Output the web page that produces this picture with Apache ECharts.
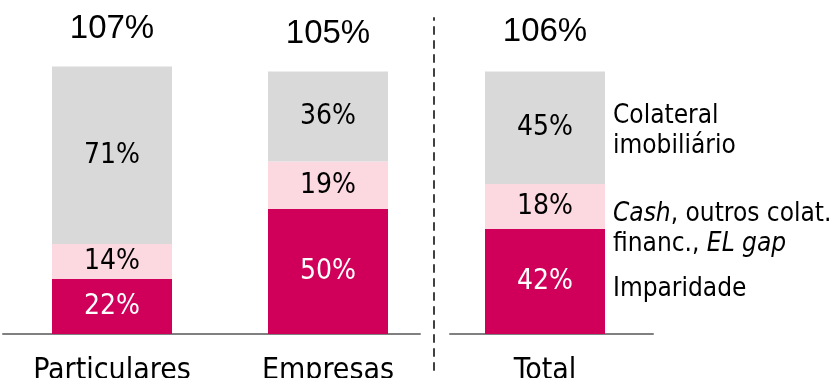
<!DOCTYPE html>
<html>
<head>
<meta charset="utf-8">
<script src="https://cdn.jsdelivr.net/npm/echarts@6/dist/echarts.min.js"></script>
<style>
  html, body { margin: 0; padding: 0; background: #fff; }
  #chart { width: 839px; height: 378px; }
</style>
</head>
<body>
<div id="chart"></div>
<script>
// Coverage of credit exposure, by segment (stacked shares, %)
const categories = ['Particulares', 'Empresas', 'Total'];
const imparidade = [22, 50, 42];
const cashOutros = [14, 19, 18];
const colateral = [71, 36, 45];
const totals = [107, 105, 106];
const seriesNames = ['Imparidade', 'Cash, outros colat. financ., EL gap', 'Colateral imobiliário'];
const legendTexts = ['Imparidade', '{i|Cash}, outros colat.\nfinanc., {i|EL gap}', 'Colateral\nimobili\u00e1rio'];

const FONT = '"DejaVu Sans Condensed", "DejaVu Sans", sans-serif';
const FONT_TOTAL = '"Liberation Sans Narrow", "Arial Narrow", "Liberation Sans", sans-serif';
const COLORS = ['#D0005A', '#FCD9E1', '#D9D9D9'];
const LABEL_COLORS = ['#ffffff', '#000000', '#000000'];
const layers = [imparidade, cashOutros, colateral];

// panel 0: Particulares + Empresas, panel 1: Total
const panels = [[0, 2], [2, 3]];

const PLOT_TOP = 34, PLOT_HEIGHT = 300, Y_MAX = 120;

const grid = [
  { left: 4, width: 432, top: PLOT_TOP, height: PLOT_HEIGHT },
  { left: 450, width: 190, top: PLOT_TOP, height: PLOT_HEIGHT },
  { left: 3, width: 417, top: PLOT_TOP, height: PLOT_HEIGHT },
  { left: 450, width: 203, top: PLOT_TOP, height: PLOT_HEIGHT },
  { left: 434, width: 10, top: 18, height: 352 }
].map(g => Object.assign({ outerBoundsMode: 'none', containLabel: false }, g));

const xAxis = [];
const yAxis = [];
panels.forEach(([a, b]) => {
  xAxis.push({
    type: 'category', gridIndex: xAxis.length, data: categories.slice(a, b),
    axisLine: { show: false }, axisTick: { show: false },
    axisLabel: { fontFamily: FONT, fontSize: 30, color: '#000', margin: 22 }
  });
  yAxis.push({ type: 'value', gridIndex: yAxis.length, min: 0, max: Y_MAX, show: false });
});
// baselines under each panel
[2, 3].forEach(gi => {
  xAxis.push({
    type: 'category', gridIndex: gi, data: [''],
    axisLine: { show: true, lineStyle: { color: '#808080', width: 2 } },
    axisTick: { show: false }, axisLabel: { show: false }
  });
  yAxis.push({ type: 'value', gridIndex: gi, min: 0, max: Y_MAX, show: false });
});
// dashed separator between the segments and the total
xAxis.push({ type: 'category', gridIndex: 4, data: [''], show: false });
yAxis.push({
  type: 'value', gridIndex: 4, min: 0, max: 1,
  axisLine: { show: true, lineStyle: { color: '#404040', width: 2, type: [7, 7] } },
  axisTick: { show: false }, axisLabel: { show: false }, splitLine: { show: false }
});

const series = [];
panels.forEach(([a, b], p) => {
  layers.forEach((vals, i) => {
    series.push({
      type: 'bar', name: seriesNames[i], xAxisIndex: p, yAxisIndex: p,
      stack: 'panel' + p, barWidth: 120, barGap: '-100%',
      data: vals.slice(a, b),
      itemStyle: { color: COLORS[i] },
      label: {
        show: true, position: 'inside', formatter: '{c}%',
        color: LABEL_COLORS[i], fontFamily: FONT, fontSize: 28
      },
      emphasis: { disabled: true }
    });
  });
  // totals, written above each stack
  series.push({
    type: 'bar', xAxisIndex: p, yAxisIndex: p,
    barWidth: 120, barGap: '-100%', z: 1,
    data: totals.slice(a, b),
    itemStyle: { color: 'rgba(255,255,255,0)' },
    label: {
      show: true, position: 'top', distance: 21, formatter: '{c}%',
      color: '#000000', opacity: 1, fontFamily: FONT_TOTAL, fontSize: 33
    },
    emphasis: { disabled: true }, silent: true
  });
});

const legendTextStyle = {
  fontFamily: FONT, fontSize: 26, lineHeight: 30, color: '#000',
  rich: { i: { fontFamily: FONT, fontSize: 26, lineHeight: 30, fontStyle: 'italic', color: '#000' } }
};
const legendTops = [274, 199, 101];
const legend = [0, 1, 2].map(i => ({
  data: [seriesNames[i]],
  left: 608, top: legendTops[i], padding: 0,
  itemWidth: 0, itemHeight: 0, icon: 'rect',
  selectedMode: false,
  formatter: () => legendTexts[i],
  textStyle: legendTextStyle
}));

const chart = echarts.init(document.getElementById('chart'), null, { renderer: 'canvas' });
chart.setOption({
  animation: false,
  backgroundColor: '#ffffff',
  grid, xAxis, yAxis, series, legend,
  tooltip: { show: false }
});
</script>
</body>
</html>
